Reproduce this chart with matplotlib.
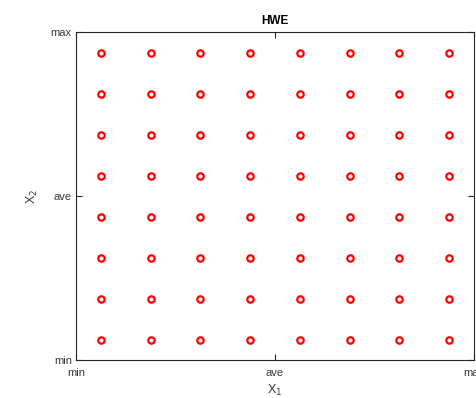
import matplotlib
matplotlib.use("Agg")
import matplotlib.pyplot as plt
import numpy as np

plt.rcParams['font.family'] = ['Liberation Sans', 'DejaVu Sans']

# Design levels (normalized 0..1 range) for each factor
x1_levels = [0.0625, 0.1875, 0.3125, 0.4375, 0.5625, 0.6875, 0.8125, 0.9375]
x2_levels = [0.0625, 0.1875, 0.3125, 0.4375, 0.5625, 0.6875, 0.8125, 0.9375]
tick_values = [0.0, 0.5, 1.0]
tick_labels = ['min', 'ave', 'max']
title = 'HWE'

gx, gy = np.meshgrid(x1_levels, x2_levels)

fig = plt.figure(figsize=(4.77, 3.98), dpi=100)
ax = fig.add_axes([76/477, 38/398, 398/477, 328/398])
axis_col = '#262626'
label_col = '#3a3a3a'

ax.plot(gx.ravel(), gy.ravel(), linestyle='none', marker='o', markersize=4.6,
        markerfacecolor='none', markeredgecolor='#ff0000', markeredgewidth=1.6)

ax.set_xlim(0, 1)
ax.set_ylim(0, 1)
ax.set_xticks(tick_values)
ax.set_xticklabels(tick_labels)
ax.set_yticks(tick_values)
ax.set_yticklabels(tick_labels)
ax.tick_params(direction='in', length=4, width=0.8, colors=axis_col,
               labelsize=8, top=True, right=True)
ax.tick_params(axis='x', labelcolor=label_col, pad=6)
ax.tick_params(axis='y', labelcolor=label_col, pad=3)
for s in ax.spines.values():
    s.set_color(axis_col)
    s.set_linewidth(0.8)

ax.set_xlabel('X$_1$', fontsize=9, color=label_col, labelpad=3)
ax.set_ylabel('X$_2$', fontsize=9, color=label_col, labelpad=8)
ax.set_title(title, fontsize=8.5, fontweight='bold', color='black', pad=6)

fig.savefig('out.png', dpi=100)
